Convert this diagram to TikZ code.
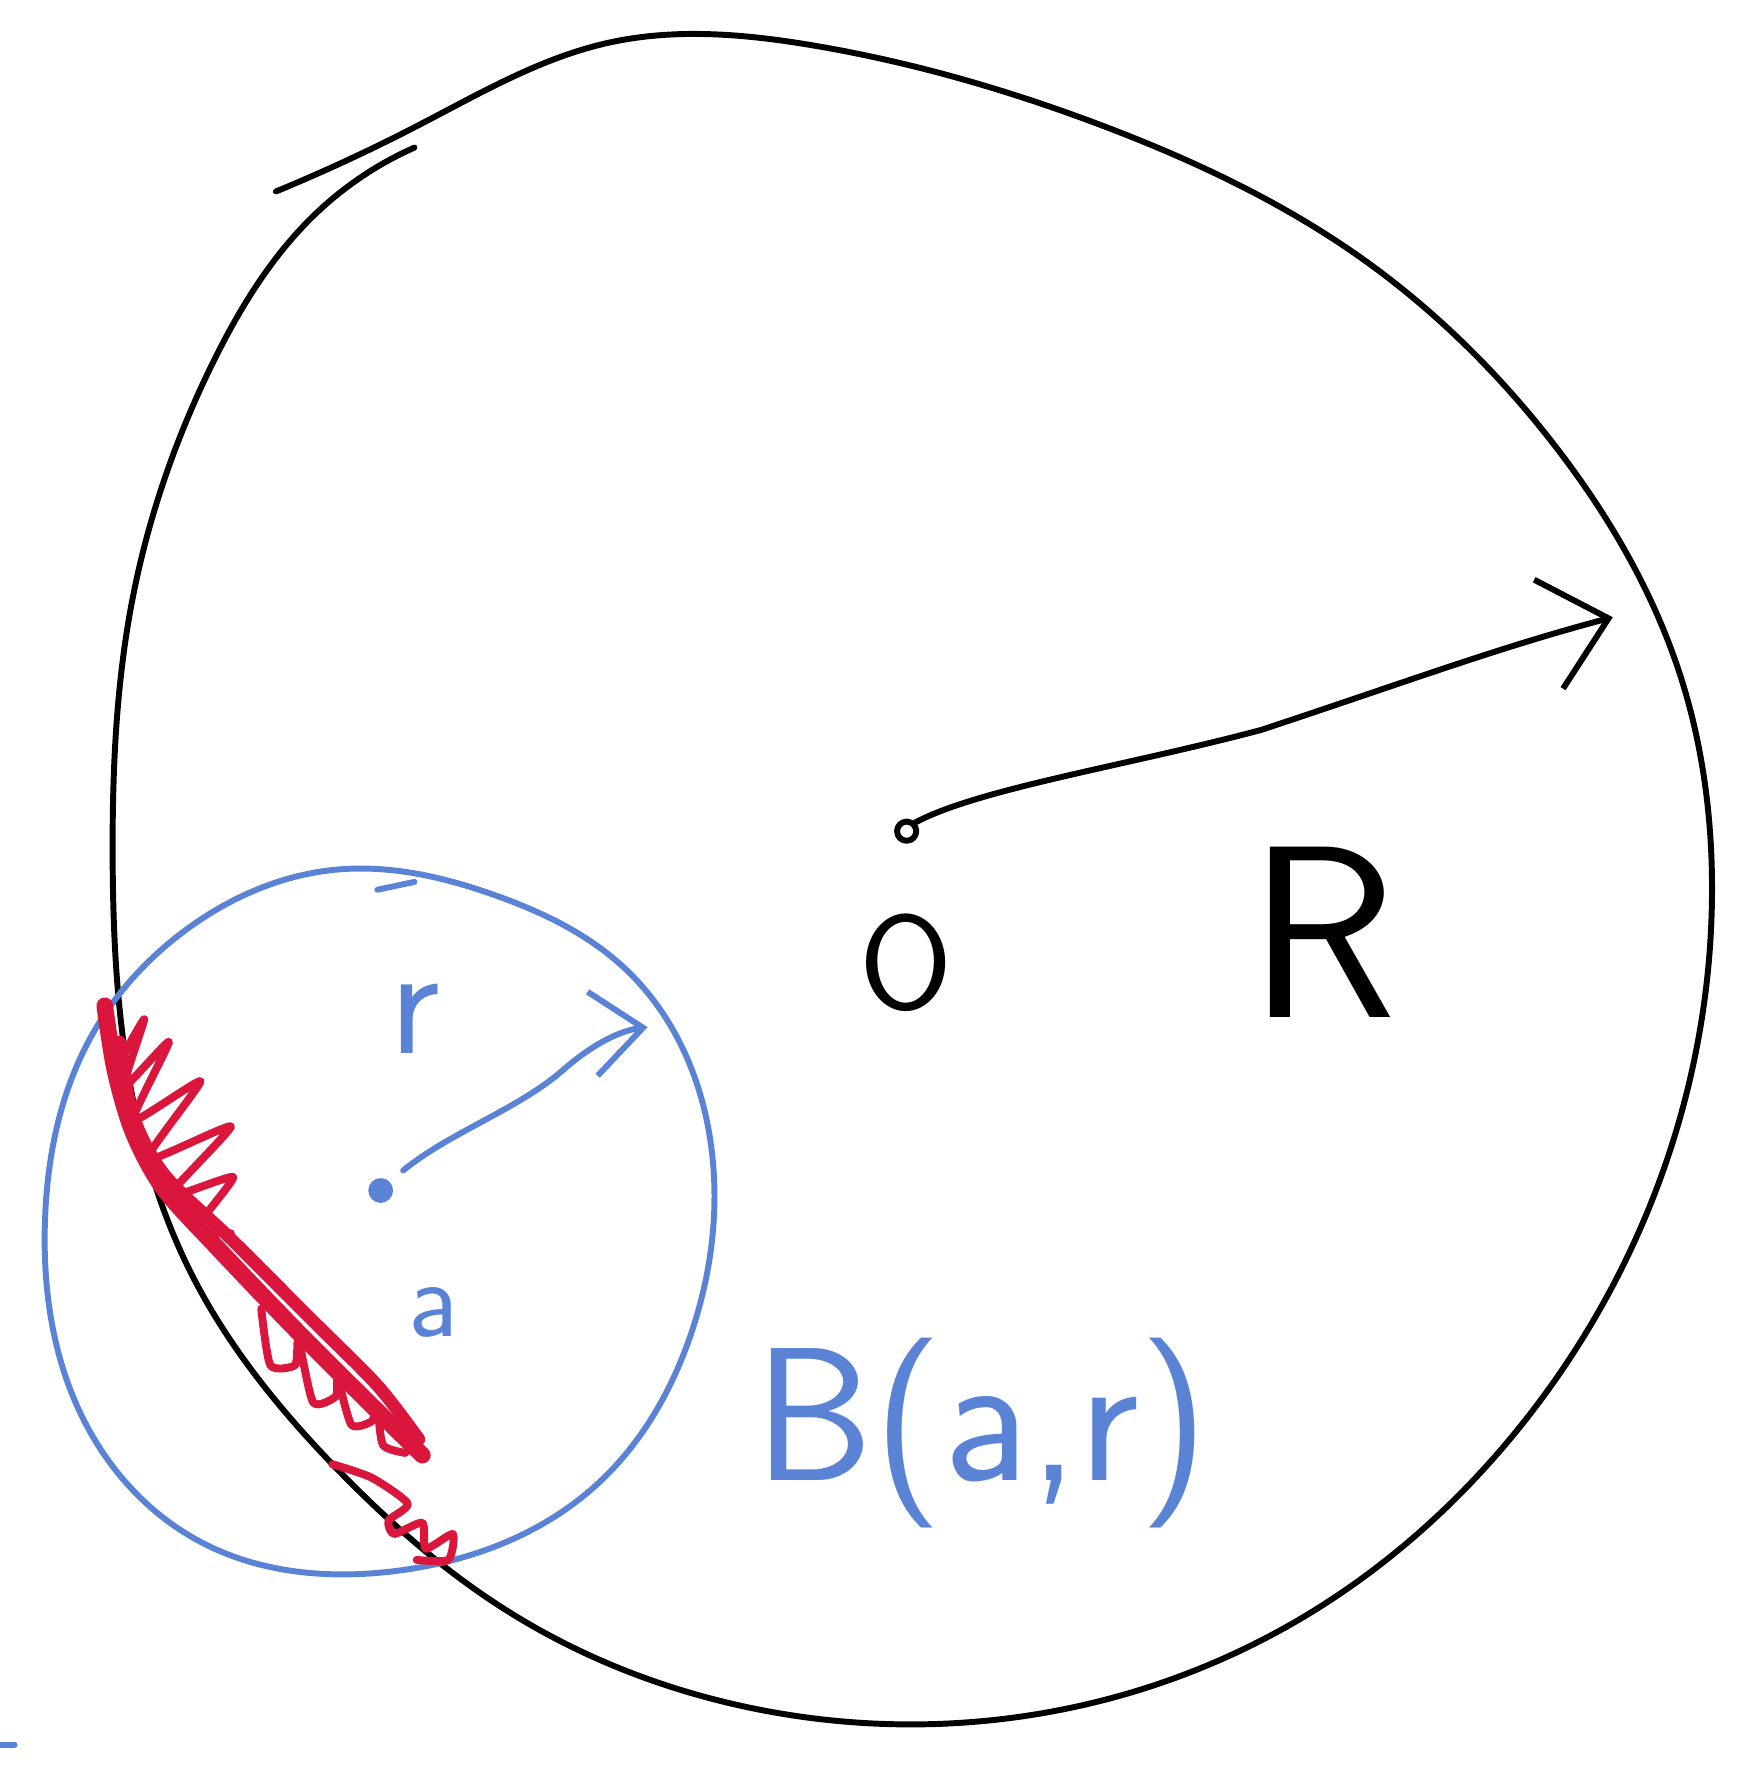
\documentclass[tikz,border=0pt]{standalone}
\usepackage{tikz}
\usetikzlibrary{arrows.meta,hobby}
\definecolor{inkblue}{RGB}{90,131,214}
\definecolor{inkred}{RGB}{218,22,60}

\begin{document}
\begin{tikzpicture}[x=0.01cm, y=-0.01cm, line cap=round, line join=round,
  blackpen/.style={black, line width=1.5pt},
  bluepen/.style={inkblue, line width=1.5pt},
  redpen/.style={inkred, line width=2pt},
  barb/.style={-{Straight Barb[length=0.55cm, width=1.0cm, line width=1.5pt]}}]

\useasboundingbox (0,0) rectangle (1542,1568);

% Big disk boundary (hand drawn, starts and ends at the top left)
\draw[blackpen] plot[hobby] coordinates {(245,170) (370,112) (540,38) (720,40)
  (980,112) (1210,230) (1380,395) (1492,600) (1520,800)
  (1480,1030) (1355,1260) (1150,1440) (900,1525) (660,1515)
  (450,1430) (300,1305) (172,1135) (115,960) (100,760)
  (118,530) (190,320) (280,190) (368,131)};

% Centre O and radius R
\node[circle, draw, blackpen, inner sep=0pt, minimum size=0.17cm] (o) at (805,738) {};
\coordinate (rtip) at (1432,548);
\draw[blackpen, barb] (o.north east) .. controls (870,700) and (1000,680) .. (1120,648)
  .. controls (1250,605) and (1330,575) .. (rtip);
\node[font=\sffamily\fontsize{34}{34}\selectfont] (olabel) at (805,855) {O};
\node[font=\sffamily\fontsize{62}{62}\selectfont] (rlabel) at (1175,828) {R};

% Small ball B(a,r)
\draw[bluepen] plot[closed hobby] coordinates {(300,772) (440,795) (555,860)
  (632,1022) (615,1180) (530,1318) (350,1395) (180,1370)
  (75,1262) (40,1082) (80,922) (170,822)};
\draw[bluepen] (335,790) -- (368,783);
\node[circle, fill=inkblue, inner sep=0pt, minimum size=0.22cm] (a) at (338,1057) {};
\coordinate (rbtip) at (575,912);
\draw[bluepen, -{Straight Barb[length=0.45cm, width=0.75cm, line width=1.5pt]}, shorten <=0.15cm]
  (a.north east) .. controls (400,1005) and (460,985) .. (500,950)
  .. controls (525,928) and (550,915) .. (rbtip);
\node[text=inkblue, font=\sffamily\fontsize{40}{40}\selectfont] (rsmall) at (368,905) {r};
\node[text=inkblue, font=\sffamily\fontsize{28}{28}\selectfont] (asmall) at (385,1165) {a};
\node[text=inkblue, font=\sffamily\fontsize{48}{48}\selectfont] (blabel) at (872,1272) {B(a,r)};
\draw[bluepen] (0,1549) -- (13,1549);

% Red scribble on the shared boundary
\draw[inkred, line width=4.2pt] plot[smooth] coordinates {
  (93,893) (102,950) (118,1005) (145,1055) (195,1110) (260,1178)
  (320,1238) (375,1292)};
\draw[inkred, line width=3.2pt] plot[smooth] coordinates {
  (106,925) (118,990) (146,1043) (205,1100) (275,1170) (335,1230) (372,1278)};
\draw[redpen] plot[smooth, tension=0.3] coordinates {
  (105,945) (128,905) (110,965) (150,925) (118,995) (178,960) (130,1030)
  (205,1000) (150,1062) (207,1045) (175,1090) (205,1095)};
\draw[redpen] plot[smooth, tension=0.4] coordinates {
  (232,1162) (240,1212) (262,1212) (265,1190) (278,1245) (298,1240)
  (300,1225) (312,1265) (330,1262) (335,1250) (340,1283) (360,1290)};
\draw[redpen] plot[smooth, tension=0.4] coordinates {
  (295,1300) (330,1312) (362,1335) (345,1350) (350,1362) (375,1352)
  (378,1375) (402,1362) (398,1385) (370,1385)};

\end{tikzpicture}
\end{document}
